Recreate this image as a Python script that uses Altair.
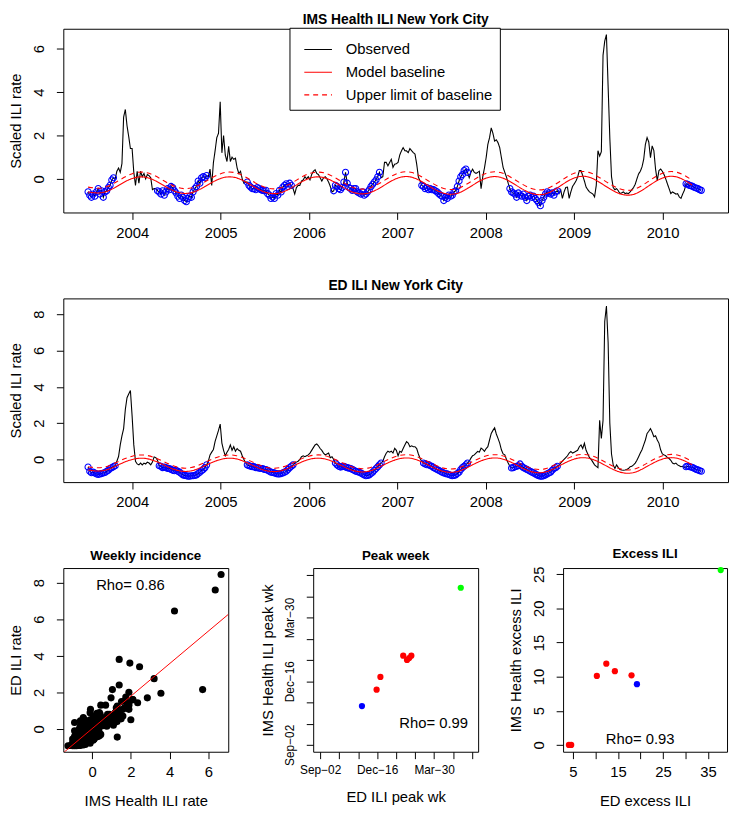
import altair as alt
import pandas as pd

FONT = "Liberation Sans"

# ---------------- weekly scaled ILI series (season = July..June) ----------------
ims_s0 = [-0.6, -0.75, -0.85, -0.7, -0.8, -0.6, -0.45, -0.7, -0.55, -0.85,
          -0.6, -0.55, -0.4, -0.3, -0.05, 0.05, 0.0, 0.35, 0.5, 0.3,
          0.7, 2.85, 3.2, 2.45, 1.95, 1.4, 1.4, 0.3, -0.3, 0.35,
          -0.2, 0.35, 0.1, 0.25, 0.0, 0.2, 0.15, 0.05, -0.5, -0.45,
          -0.45, -0.55, -0.6, -0.7, -0.55, -0.75, -0.6, -0.45, -0.5, -0.35,
          -0.4, -0.55]
ims_s1 = [-0.65, -0.8, -0.9, -0.75, -0.85, -1.0, -1.05, -0.9, -0.8, -0.85,
          -0.6, -0.45, -0.35, -0.1, -0.2, 0.05, 0.1, 0.05, 0.15, 0.1,
          0.45, -0.3, 0.75, 1.3, 1.9, 2.1, 3.55, 1.2, 2.0, 1.1,
          0.8, 1.5, 0.8, 1.0, 0.9, 0.95, 0.5, 0.25, 0.35, 0.0,
          -0.2, -0.15, -0.15, -0.3, -0.38, -0.45, -0.45, -0.5, -0.4, -0.45,
          -0.5, -0.53]
ims_s2 = [-0.55, -0.53, -0.68, -0.75, -0.9, -0.83, -0.9, -0.68, -0.75, -0.53,
          -0.6, -0.38, -0.3, -0.23, -0.35, -0.2, -0.3, -0.45, -0.7, -0.4,
          -0.3, -0.3, -0.1, -0.05, 0.1, 0.0, 0.1, -0.05, 0.2, 0.35,
          0.42, 0.25, 0.2, 0.05, -0.1, 0.05, 0.1, 0.0, -0.15, -0.35,
          -0.6, -0.55, -0.3, -0.35, -0.45, -0.5, -0.4, -0.15, 0.3, -0.2,
          -0.4, -0.45]
ims_s3 = [-0.53, -0.45, -0.45, -0.6, -0.65, -0.7, -0.6, -0.75, -0.7, -0.6,
          -0.5, -0.35, -0.25, -0.15, -0.05, 0.1, 0.3, 0.05, 0.1, 0.76,
          0.76, 0.6, 0.75, 0.9, 0.53, 0.68, 0.7, 0.76, 1.1, 1.29,
          1.44, 1.3, 1.29, 1.21, 1.4, 1.3, 1.21, 1.14, 0.68, 0.08,
          -0.1, -0.3, -0.35, -0.45, -0.4, -0.5, -0.45, -0.5, -0.5, -0.55,
          -0.6, -0.68]
ims_s4 = [-0.75, -0.8, -1.0, -0.85, -0.9, -0.75, -0.8, -0.75, -0.6, -0.55,
          -0.35, -0.1, 0.1, 0.2, 0.38, 0.45, 0.3, 0.05, 0.3, 0.45,
          0.3, 0.25, 0.3, 0.35, -0.45, 0.1, 0.5, 0.98, 1.59, 1.9,
          2.35, 2.1, 1.74, 1.8, 1.67, 1.44, 0.98, 0.53, 0.3, 0.08,
          -0.2, -0.45, -0.6, -0.65, -0.7, -0.85, -0.65, -0.75, -0.8, -0.7,
          -0.85, -1.0]
ims_s5 = [-0.8, -0.75, -0.85, -0.8, -0.9, -1.0, -1.1, -1.24, -1.0, -0.85,
          -0.7, -0.6, -0.65, -0.7, -0.65, -0.75, -0.6, -0.55, -0.68, -0.5,
          -0.9, -0.6, -0.4, -0.38, -0.9, -0.6, -0.35, -0.23, -0.1, 0.08,
          0.38, 0.38, 0.15, -0.1, -0.38, -0.5, -0.6, -0.65, -0.7, -0.83,
          -0.3, 1.3, 1.05, 1.25, 5.7, 6.35, 6.65, 4.25, 1.9, 0.1,
          -0.4, -0.5]
ims_s6 = [-0.45, -0.55, -0.68, -0.65, -0.6, -0.68, -0.65, -0.68, -0.6, -0.5,
          -0.4, -0.25, 0.0, 0.23, 0.35, 0.55, 0.9, 1.59, 1.9, 1.7,
          0.98, 1.52, 1.3, 0.45, -0.08, 0.38, 0.45, 0.35, 0.2, 0.0,
          -0.23, -0.45, -0.68, -0.6, -0.65, -0.7, -0.68, -0.83, -0.9, -0.7,
          -0.53, -0.23, -0.25, -0.3, -0.32, -0.35, -0.4, -0.42, -0.45, -0.5,
          -0.53]

ed_s0 = [-0.42, -0.65, -0.73, -0.7, -0.75, -0.8, -0.83, -0.8, -0.78, -0.75,
         -0.72, -0.65, -0.6, -0.5, -0.45, -0.4, -0.35, -0.1, 0.16, 0.8,
         1.3, 1.7, 2.75, 3.4, 3.6, 3.8, 2.4, 0.8, -0.1, -0.25,
         -0.3, -0.2, -0.3, -0.2, -0.25, -0.15, -0.2, -0.3, -0.15, 0.14,
         0.1, -0.05, -0.35, -0.38, -0.45, -0.42, -0.45, -0.5, -0.5, -0.55,
         -0.6, -0.62]
ed_s1 = [-0.6, -0.65, -0.7, -0.78, -0.85, -0.88, -0.9, -0.92, -0.92, -0.9,
         -0.9, -0.88, -0.85, -0.78, -0.7, -0.62, -0.55, -0.45, -0.3, -0.1,
         0.25, 0.4, 0.55, 1.0, 1.3, 1.6, 1.95, 0.9, 0.5, 0.2,
         0.4, 0.55, 0.8, 0.5, 0.7, 0.45, 0.6, 0.5, 0.45, 0.2,
         0.0, -0.2, -0.3, -0.35, -0.38, -0.4, -0.4, -0.45, -0.45, -0.48,
         -0.5, -0.5]
ed_s2 = [-0.55, -0.56, -0.6, -0.65, -0.7, -0.72, -0.74, -0.78, -0.8, -0.8,
         -0.78, -0.74, -0.7, -0.65, -0.55, -0.45, -0.38, -0.3, -0.2, -0.15,
         -0.1, 0.0, 0.15, 0.2, 0.15, 0.2, 0.25, 0.35, 0.5, 0.65,
         0.8, 0.85, 0.75, 0.6, 0.5, 0.35, 0.25, 0.3, 0.35, 0.1,
         0.15, 0.0, -0.2, -0.3, -0.38, -0.42, -0.4, -0.38, -0.42, -0.45,
         -0.48, -0.5]
ed_s3 = [-0.55, -0.6, -0.65, -0.68, -0.7, -0.75, -0.8, -0.85, -0.9, -0.88,
         -0.85, -0.78, -0.7, -0.6, -0.5, -0.4, -0.3, -0.2, -0.1, 0.15,
         0.34, 0.45, 0.4, 0.45, 0.35, 0.61, 0.5, 0.2, 0.45, 0.4,
         0.6, 0.8, 0.98, 0.9, 0.7, 0.75, 0.7, 0.7, 0.6, 0.3,
         0.05, -0.1, -0.2, -0.25, -0.29, -0.28, -0.35, -0.38, -0.45, -0.5,
         -0.56, -0.6]
ed_s4 = [-0.65, -0.7, -0.75, -0.78, -0.8, -0.83, -0.87, -0.9, -0.88, -0.85,
         -0.78, -0.7, -0.56, -0.45, -0.38, -0.3, -0.2, -0.1, 0.07, 0.2,
         0.25, 0.35, 0.44, 0.4, 0.62, 0.55, 0.45, 0.6, 0.7, 1.07,
         1.43, 1.6, 1.74, 1.4, 1.16, 0.9, 0.53, 0.3, 0.25, 0.0,
         -0.2, -0.38, -0.47, -0.45, -0.4, -0.38, -0.35, -0.25, -0.38, -0.45,
         -0.5, -0.55]
ed_s5 = [-0.6, -0.65, -0.7, -0.74, -0.8, -0.85, -0.9, -0.92, -0.92, -0.9,
         -0.85, -0.8, -0.75, -0.7, -0.6, -0.5, -0.45, -0.38, -0.3, -0.2,
         -0.1, 0.0, 0.1, 0.2, 0.35, 0.44, 0.35, 0.4, 0.45, 0.5,
         0.7, 0.8, 0.6, 0.89, 0.5, 0.3, 0.1, 0.0, -0.15, -0.3,
         -0.38, -0.45, 2.15, 1.16, 2.15, 7.6, 8.45, 6.45, 2.0, 0.3,
         -0.3, -0.5]
ed_s6 = [-0.3, -0.45, -0.55, -0.58, -0.6, -0.58, -0.55, -0.5, -0.4, -0.38,
         -0.3, -0.2, -0.05, 0.15, 0.35, 0.53, 0.8, 1.07, 1.43, 1.55,
         1.7, 1.5, 1.25, 1.3, 1.07, 0.9, 0.53, 0.3, 0.25, 0.2,
         0.1, 0.05, -0.05, -0.2, -0.25, -0.2, -0.3, -0.35, -0.4, -0.38,
         -0.45, -0.4, -0.38, -0.4, -0.42, -0.45, -0.5, -0.55, -0.58, -0.62,
         -0.65]

ims_obs = ims_s0 + ims_s1 + ims_s2 + ims_s3 + ims_s4 + ims_s5 + ims_s6
ed_obs = ed_s0 + ed_s1 + ed_s2 + ed_s3 + ed_s4 + ed_s5 + ed_s6
n = min(len(ims_obs), len(ed_obs))
ims_obs, ed_obs = ims_obs[:n], ed_obs[:n]
start_year = 2003.5
week_years = [start_year + i * 7 / 365.25 for i in range(n)]

# weeks (inclusive index ranges) used to fit the baseline (blue circles)
ims_fit_ranges = [(0, 15), (41, 70), (94, 120), (145, 172), (197, 224), (249, 277), (353, 362)]
ed_fit_ranges = [(0, 16), (42, 70), (94, 121), (146, 173), (198, 224), (250, 277), (353, 362)]

# ---------------- baseline model (sampled every 2 months from 2003.5) ----------------
ims_base = [-0.6, -0.63, -0.33, 0.02, 0.06, -0.25,
            -0.6, -0.64, -0.33, 0.02, 0.06, -0.26,
            -0.61, -0.65, -0.34, 0.02, 0.06, -0.26,
            -0.62, -0.66, -0.34, 0.03, 0.07, -0.27,
            -0.63, -0.68, -0.34, 0.03, 0.07, -0.27,
            -0.64, -0.7, -0.35, 0.04, 0.08, -0.28,
            -0.66, -0.72, -0.35, 0.04, 0.08, -0.28]
ims_upper = [-0.38, -0.41, -0.11, 0.24, 0.28, -0.03,
             -0.38, -0.42, -0.11, 0.24, 0.28, -0.04,
             -0.39, -0.43, -0.12, 0.24, 0.28, -0.04,
             -0.4, -0.44, -0.12, 0.25, 0.29, -0.05,
             -0.41, -0.46, -0.12, 0.25, 0.29, -0.05,
             -0.42, -0.48, -0.13, 0.26, 0.3, -0.06,
             -0.44, -0.5, -0.13, 0.26, 0.3, -0.06]
ed_base = [-0.58, -0.62, -0.32, 0.0, 0.04, -0.25,
           -0.59, -0.63, -0.32, 0.0, 0.04, -0.26,
           -0.6, -0.64, -0.33, 0.0, 0.04, -0.26,
           -0.61, -0.66, -0.33, 0.01, 0.05, -0.27,
           -0.63, -0.68, -0.34, 0.01, 0.05, -0.27,
           -0.65, -0.7, -0.35, 0.02, 0.06, -0.28,
           -0.67, -0.73, -0.36, 0.02, 0.06, -0.29]
ed_upper = [-0.4, -0.44, -0.14, 0.18, 0.22, -0.07,
            -0.41, -0.45, -0.14, 0.18, 0.22, -0.08,
            -0.42, -0.46, -0.15, 0.18, 0.22, -0.08,
            -0.43, -0.48, -0.15, 0.19, 0.23, -0.09,
            -0.45, -0.5, -0.16, 0.19, 0.23, -0.09,
            -0.47, -0.52, -0.17, 0.2, 0.24, -0.1,
            -0.49, -0.55, -0.18, 0.2, 0.24, -0.11]
base_years = [start_year + k / 6 for k in range(len(ims_base))]

series_names = ["Observed", "Model baseline", "Upper limit of baseline"]
series_colors = ["#000000", "#FF0000", "#FF0000"]
series_dash = [[1, 0], [1, 0], [5, 4]]
year_ticks = [2004, 2005, 2006, 2007, 2008, 2009, 2010]

# ---------------- season summaries ----------------
season_colors = ["#0000FF", "#FF0000", "#FF0000", "#FF0000", "#FF0000", "#FF0000", "#FF0000", "#00FF00"]
ed_peak_day = [77, 104, 111, 153, 160, 164, 168, 259]     # days after Sep-02
ims_peak_day = [64, 91, 112, 147, 140, 143, 147, 259]
peak_ticks = [0, 35, 70, 105, 140, 175, 210, 245, 280]
peak_tick_labels = ["Sep\u221202", "", "", "Dec\u221216", "", "", "Mar\u221230", "", ""]
ed_excess = [19.2, 10.3, 12.4, 14.3, 18.0, 4.1, 4.6, 37.8]
ims_excess = [8.9, 10.1, 11.9, 10.8, 10.2, 0.0, 0.0, 25.6]
excess_x_ticks = [5, 10, 15, 20, 25, 30, 35]
excess_x_labelled = [5, 15, 25, 35]
rho_weekly, rho_peak, rho_excess = "0.86", "0.99", "0.93"

# ---------------- helpers ----------------
W, H = 673, 186
SW, SH = 167, 186


def in_ranges(i, ranges):
    return any(a <= i <= b for a, b in ranges)


def ts_frames(obs, base, upper, ranges):
    obs_df = pd.DataFrame({"year": week_years, "value": obs, "series": series_names[0]})
    obs_df["fit"] = [in_ranges(i, ranges) for i in range(len(obs))]
    base_df = pd.concat([
        pd.DataFrame({"year": base_years, "value": base, "series": series_names[1]}),
        pd.DataFrame({"year": base_years, "value": upper, "series": series_names[2]}),
    ])
    return obs_df, base_df


def ts_panel(obs, base, upper, ranges, title, ydomain, yticks, with_legend, title_offset):
    obs_df, base_df = ts_frames(obs, base, upper, ranges)
    x = alt.X("year:Q", scale=alt.Scale(domain=[2003.22, 2010.74], nice=False, zero=False),
              axis=alt.Axis(values=year_ticks, format="d", title=None))
    y = alt.Y("value:Q", scale=alt.Scale(domain=ydomain, nice=False, zero=False),
              axis=alt.Axis(values=yticks, title="Scaled ILI rate"))
    if with_legend:
        leg = alt.Legend(title=None, orient="none", legendX=229, legendY=-1,
                         symbolType="stroke", symbolSize=784, symbolStrokeWidth=1.2,
                         symbolOffset=7,
                         labelFontSize=15, labelFont=FONT, labelOffset=13,
                         padding=7, rowPadding=-9, strokeColor="black",
                         fillColor="white", cornerRadius=0, labelColor="black")
        color = alt.Color("series:N", scale=alt.Scale(domain=series_names, range=series_colors), legend=leg)
        dash = alt.StrokeDash("series:N", scale=alt.Scale(domain=series_names, range=series_dash), legend=leg)
        line = alt.Chart(obs_df).mark_line(strokeWidth=1.1, clip=True).encode(x=x, y=y, color=color, strokeDash=dash)
        bl = alt.Chart(base_df).mark_line(strokeWidth=1.1, interpolate="natural", clip=True).encode(
            x=x, y=y, color=color, strokeDash=dash, detail="series:N")
    else:
        line = alt.Chart(obs_df).mark_line(strokeWidth=1.1, color="black", clip=True).encode(x=x, y=y)
        bl = alt.Chart(base_df).mark_line(strokeWidth=1.1, interpolate="natural", color="#FF0000", clip=True).encode(
            x=x, y=y,
            strokeDash=alt.StrokeDash("series:N", scale=alt.Scale(domain=series_names, range=series_dash), legend=None))
    pts = alt.Chart(obs_df).transform_filter("datum.fit").mark_point(
        shape="circle", filled=False, color="#0000FF", size=38, strokeWidth=1.1, opacity=1, clip=True
    ).encode(x=x, y=y)
    return alt.layer(line, pts, bl).properties(
        width=W, height=H,
        title=alt.TitleParams(title, fontSize=14, fontWeight="bold", font=FONT, offset=title_offset))


top = ts_panel(ims_obs, ims_base, ims_upper, ims_fit_ranges, "IMS Health ILI New York City",
               [-1.55, 6.92], [0, 2, 4, 6], True, 0)
mid = ts_panel(ed_obs, ed_base, ed_upper, ed_fit_ranges, "ED ILI New York City",
               [-1.25, 8.87], [0, 2, 4, 6, 8], False, 6)

# weekly incidence scatter
sc_df = pd.DataFrame({"ims": ims_obs, "ed": ed_obs})
sx = alt.X("ims:Q", scale=alt.Scale(domain=[-1.48, 7.02], nice=False, zero=False),
           axis=alt.Axis(values=[0, 2, 4, 6], title="IMS Health ILI rate"))
sy = alt.Y("ed:Q", scale=alt.Scale(domain=[-1.25, 8.8], nice=False, zero=False),
           axis=alt.Axis(values=[0, 2, 4, 6, 8], title="ED ILI rate"))
sc_pts = alt.Chart(sc_df).mark_circle(size=52, color="black", opacity=1, clip=True).encode(x=sx, y=sy)
sc_fit = alt.Chart(sc_df).transform_regression("ims", "ed", extent=[-1.6, 7.2]).mark_line(
    color="#FF0000", strokeWidth=1, clip=True).encode(x=sx, y=sy)
sc_txt = alt.Chart(pd.DataFrame({"t": ["Rho= " + rho_weekly]})).mark_text(
    fontSize=15, font=FONT, color="black").encode(text="t:N", x=alt.value(68), y=alt.value(17))
p1 = alt.layer(sc_pts, sc_fit, sc_txt).properties(
    width=SW, height=SH, title=alt.TitleParams("Weekly incidence", fontSize=13.5, fontWeight="bold", font=FONT, offset=6))

# peak week
pk_df = pd.DataFrame({"ed": ed_peak_day, "ims": ims_peak_day, "col": season_colors})
label_expr = " : ".join(
    f"datum.value == {v} ? '{l}'" for v, l in zip(peak_ticks, peak_tick_labels) if l) + " : ''"
px_ = alt.X("ed:Q", scale=alt.Scale(domain=[-12.8, 291], nice=False, zero=False),
            axis=alt.Axis(values=peak_ticks, labelExpr=label_expr, title="ED ILI peak wk", labelFontSize=12))
py_ = alt.Y("ims:Q", scale=alt.Scale(domain=[-11.4, 291.5], nice=False, zero=False),
            axis=alt.Axis(values=peak_ticks, labelExpr=label_expr, title="IMS Health ILI peak wk", labelFontSize=12))
pk_pts = alt.Chart(pk_df).mark_circle(size=40, opacity=1).encode(x=px_, y=py_, color=alt.Color("col:N", scale=None))
pk_txt = alt.Chart(pd.DataFrame({"t": ["Rho= " + rho_peak]})).mark_text(
    fontSize=15, font=FONT, color="black").encode(text="t:N", x=alt.value(122), y=alt.value(157))
p2 = alt.layer(pk_pts, pk_txt).properties(
    width=SW, height=SH, title=alt.TitleParams("Peak week", fontSize=13.5, fontWeight="bold", font=FONT, offset=6))

# excess ILI
ex_df = pd.DataFrame({"ed": ed_excess, "ims": ims_excess, "col": season_colors})
ex_label_expr = "indexof(" + str(excess_x_labelled) + ", datum.value) >= 0 ? datum.label : ''"
ex_x = alt.X("ed:Q", scale=alt.Scale(domain=[2.8, 39.2], nice=False, zero=False),
             axis=alt.Axis(values=excess_x_ticks, labelExpr=ex_label_expr, title="ED excess ILI"))
ex_y = alt.Y("ims:Q", scale=alt.Scale(domain=[-1.0, 25.9], nice=False, zero=False),
             axis=alt.Axis(values=[0, 5, 10, 15, 20, 25], title="IMS Health excess ILI"))
ex_pts = alt.Chart(ex_df).mark_circle(size=40, opacity=1).encode(x=ex_x, y=ex_y, color=alt.Color("col:N", scale=None))
ex_txt = alt.Chart(pd.DataFrame({"t": ["Rho= " + rho_excess]})).mark_text(
    fontSize=15, font=FONT, color="black").encode(text="t:N", x=alt.value(78), y=alt.value(173))
p3 = alt.layer(ex_pts, ex_txt).properties(
    width=166, height=SH, title=alt.TitleParams("Excess ILI", fontSize=13.5, fontWeight="bold", font=FONT, offset=6))

bottom = alt.hconcat(p1, p2, p3, spacing=86, bounds="flush")

chart = alt.vconcat(top, mid, bottom, spacing=87, bounds="flush").resolve_scale(
    color="independent", strokeDash="independent"
).properties(padding=0).configure_view(
    stroke="black", strokeWidth=1
).configure_axis(
    grid=False, domain=False, tickSize=7, tickColor="black", tickWidth=1,
    labelFont=FONT, labelFontSize=15, labelColor="black", labelPadding=6,
    titleFont=FONT, titleFontSize=15, titleFontWeight="normal", titleColor="black", titlePadding=14,
).configure_axisY(
    labelAngle=270, labelAlign="center", labelBaseline="bottom", labelPadding=10, titlePadding=8,
).configure_title(
    color="black", anchor="middle"
)

chart.save("out.html", embed_options={"renderer": "svg", "actions": False})
